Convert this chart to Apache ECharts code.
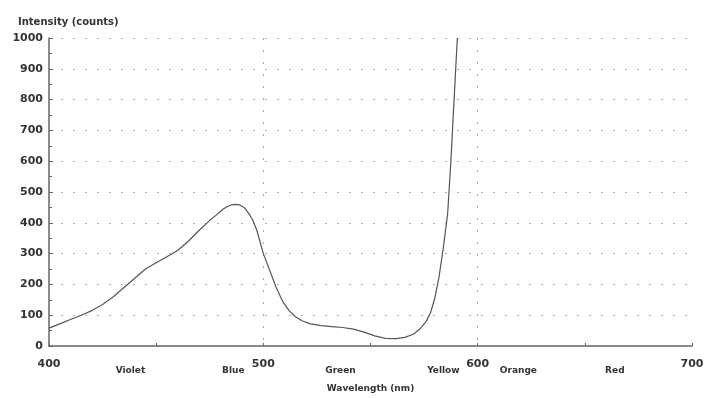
<!DOCTYPE html>
<html>
<head>
<meta charset="utf-8">
<script src="https://cdn.jsdelivr.net/npm/echarts@6/dist/echarts.min.js"></script>
<style>html,body{margin:0;padding:0;background:#fff}#c{width:714px;height:398px}</style>
</head>
<body>
<div id="c"></div>
<script>
const wavelength = [400,405,410,415,420,425,430,435,440,445,450,455,460,465,470,475,478,481,483,485,487,489,491,493,495,497,500,503,506,509,512,515,518,522,527,532,537,542,547,552,557,562,566,570,573,576,578,580,582,584,586,587.5,589,590.5];
const intensity  = [58,72,86,100,115,135,160,190,220,250,270,290,310,340,375,408,425,443,452,458,460,458,450,432,410,375,300,245,190,145,115,95,82,72,66,63,60,55,45,33,25,24,28,38,55,80,108,155,225,320,430,600,800,1000];
const yTicks = [0,100,200,300,400,500,600,700,800,900,1000];
const xTicks = [400,500,600,700];
const colorNames = ['Violet','Blue','Green','Yellow','Orange','Red'];
const colorPos = [438,486,536,584,619,664];

const data = wavelength.map((w,i)=>[w,intensity[i]]);
const chart = echarts.init(document.getElementById('c'), null, {renderer:'canvas'});
const font = 'DejaVu Sans';
chart.setOption({
  animation:false,
  backgroundColor:'#fff',
  title:{text:'Intensity (counts)',left:13,top:12,textStyle:{fontFamily:font,fontSize:10,fontWeight:'bold',color:'#333'}},
  grid:{left:49,right:22,top:38,bottom:50},
  xAxis:[{
    type:'value',min:400,max:700,interval:100,
    name:'Wavelength (nm)',nameLocation:'middle',nameGap:38,
    nameTextStyle:{fontFamily:font,fontSize:9,fontWeight:'bold',color:'#333'},
    axisLine:{show:true,onZero:false,lineStyle:{color:'#666',width:1.5}},
    axisTick:{show:true,inside:true,length:3,lineStyle:{color:'#666'}},
    minorTick:{show:true,splitNumber:2,length:3,lineStyle:{color:'#666'}},
    axisLabel:{customValues:xTicks,margin:13,fontFamily:font,fontSize:11,fontWeight:'bold',color:'#333',formatter:function(v){return String(v);}},
    splitLine:{show:true,showMinLine:false,showMaxLine:false,lineStyle:{color:'#aaa',type:[2,10],width:1}}
  },{
    type:'value',min:400,max:700,position:'bottom',
    axisLine:{show:false},axisTick:{show:false},splitLine:{show:false},
    axisLabel:{customValues:colorPos,margin:20,fontFamily:font,fontSize:9,fontWeight:'bold',color:'#333',
      formatter:function(v){const i=colorPos.indexOf(v);return i>=0?colorNames[i]:'';}}
  }],
  yAxis:{
    type:'value',min:0,max:1000,interval:100,
    axisLine:{show:true,lineStyle:{color:'#666',width:1.5}},
    axisTick:{show:true,inside:true,length:4,lineStyle:{color:'#666'}},
    minorTick:{show:true,splitNumber:2,length:3,lineStyle:{color:'#666'}},
    axisLabel:{customValues:yTicks,margin:6,fontFamily:font,fontSize:11,fontWeight:'bold',color:'#333',formatter:function(v){return String(v);}},
    splitLine:{show:true,lineStyle:{color:'#aaa',type:[2,10],width:1}}
  },
  series:[{
    type:'line',data:data,showSymbol:false,smooth:false,clip:true,
    lineStyle:{color:'#555',width:1.2}
  }]
});
</script>
</body>
</html>
